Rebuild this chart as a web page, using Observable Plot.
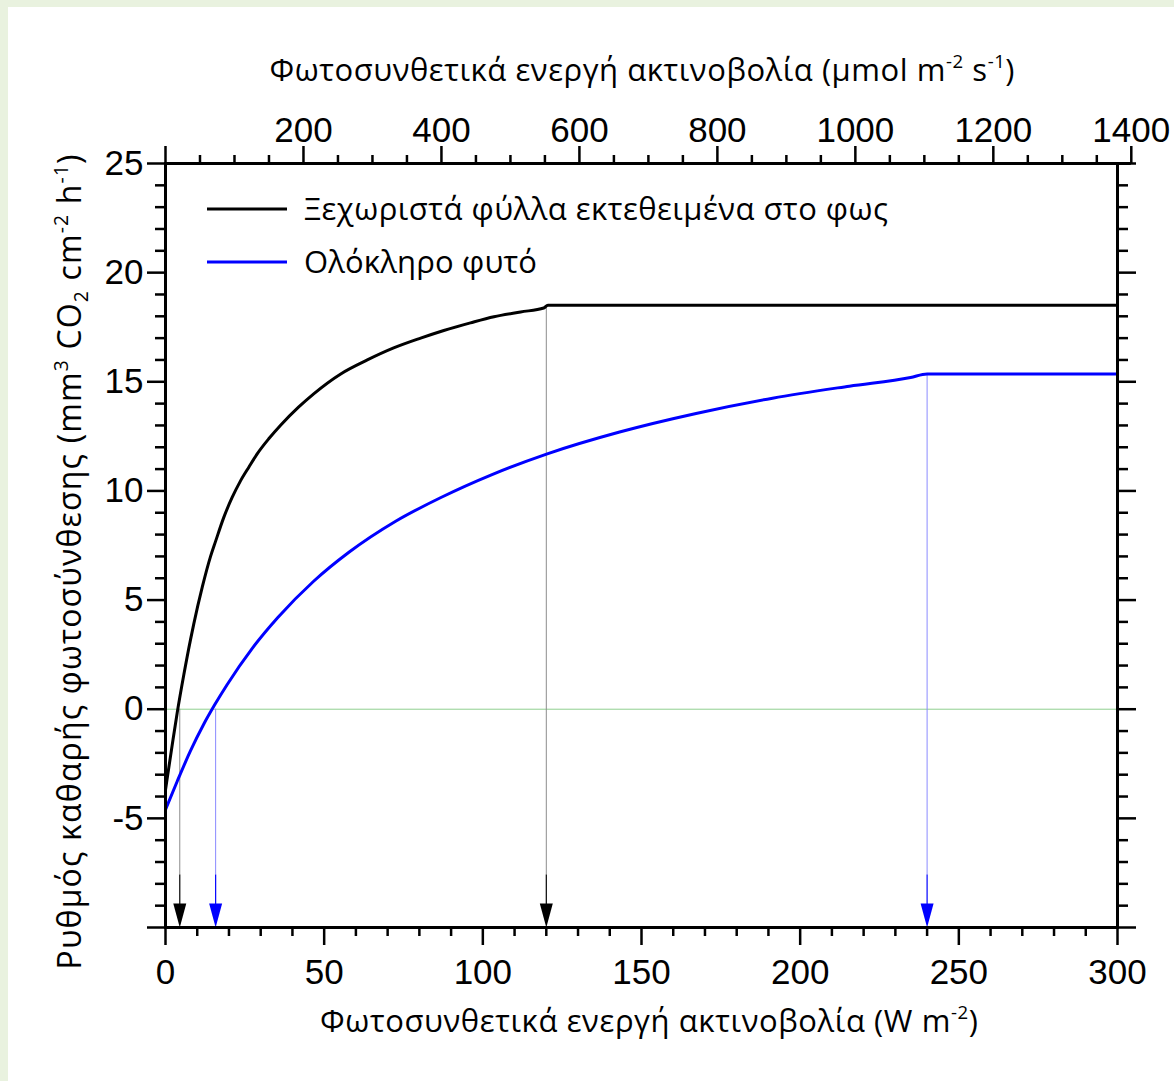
<!DOCTYPE html>
<html>
<head>
<meta charset="utf-8">
<script src="https://cdn.jsdelivr.net/npm/d3@7"></script>
<script src="https://cdn.jsdelivr.net/npm/@observablehq/plot@0.6"></script>
<style>
  html, body { margin: 0; padding: 0; }
  body { background: #e9f2df; width: 1174px; height: 1081px; position: relative; overflow: hidden; }
  #paper { position: absolute; left: 8px; top: 7px; right: 0; bottom: 0; background: #ffffff; }
  #chart { position: absolute; left: 0; top: 0; }
</style>
</head>
<body>
<div id="paper"></div>
<div id="chart"></div>
<script>
// ---------- data ----------
// Individual leaves exposed to light (W m-2, mm3 CO2 cm-2 h-1)
const leafX = [0, 0.5, 2.1, 3.7, 5.8, 7.9, 8.9, 11.6, 14.2, 15.8, 18.4, 21, 23.6, 26.3, 28.9, 32.6, 36.2, 42, 46.7, 55.1, 63.6, 71.9, 80.4, 87.7, 96.1, 103.5, 111.9, 119.2, 120.5, 300];
const leafY = [-3.7, -3.2, -1.65, -0.15, 1.6, 3.2, 3.9, 5.6, 7.0, 7.7, 8.8, 9.7, 10.45, 11.1, 11.7, 12.4, 13.0, 13.85, 14.45, 15.35, 16.0, 16.55, 17.0, 17.35, 17.7, 17.98, 18.2, 18.38, 18.51, 18.51];
// Whole plant
const plantX = [0, 3.7, 7.9, 12, 15.5, 19.3, 27.4, 35.4, 46.6, 57.9, 72.4, 86.8, 102.9, 120.3, 143.1, 167.2, 191.3, 215.5, 234.8, 240, 300];
const plantY = [-4.6, -3.3, -1.9, -0.7, 0.2, 1.1, 2.8, 4.2, 5.85, 7.2, 8.6, 9.7, 10.75, 11.7, 12.7, 13.55, 14.25, 14.8, 15.2, 15.36, 15.36];

// compensation and saturation points (W m-2) with the rate where the drop line starts
const dropX = [4.5, 15.8, 120, 240];
const dropTop = [0, 0, 18.51, 15.36];
const dropSeries = ["leaf", "plant", "leaf", "plant"];
const dropKind = ["compensation", "compensation", "saturation", "saturation"];

const seriesNames = ["Ξεχωριστά φύλλα εκτεθειμένα στο φως", "Ολόκληρο φυτό"];

// axes
const xDomain = [0, 300];
const yDomain = [-10, 25];
const xMajor = [0, 50, 100, 150, 200, 250, 300];
const xMinor = d3.range(0, 301, 10).filter(v => v % 50 !== 0);
const yMajor = [-10, -5, 0, 5, 10, 15, 20, 25];
const yMinor = d3.range(-10, 26, 1).filter(v => v % 5 !== 0);
const parMajor = [0, 200, 400, 600, 800, 1000, 1200, 1400];
const parMinor = d3.range(0, 1401, 50).filter(v => v % 200 !== 0);
const parPerW = 4.6; // µmol m-2 s-1 per W m-2

// ---------- build ----------
const leaf = leafX.map((x, i) => ({x, y: leafY[i]}));
const plant = plantX.map((x, i) => ({x, y: plantY[i]}));
const drops = dropX.map((x, i) => ({x, top: dropTop[i], s: dropSeries[i], k: dropKind[i]}));
const colorOf = {leaf: "#000000", plant: "#0000ff"};
const faintOf = {leaf: "#8c8c8c", plant: "#8a8aff"};
const yBottom = yDomain[0];
const shaftStart = -7.6;

const arrowHead = {
  draw(context) {
    const w = 6.5, h = 24;
    context.moveTo(-w, -h);
    context.lineTo(w, -h);
    context.lineTo(0, 0);
    context.closePath();
  }
};

const tickFont = 35;
const axStyle = {strokeWidth: 2.5, strokeOpacity: 1, fontSize: tickFont, label: null};
const fmt = d => d < 0 ? "-" + Math.abs(d) : String(d);

const plot = Plot.plot({
  width: 1174,
  height: 1081,
  marginLeft: 165,
  marginRight: 57,
  marginTop: 163,
  marginBottom: 154,
  x: {domain: xDomain},
  y: {domain: yDomain},
  style: {fontFamily: "'Liberation Sans', Arial, sans-serif", background: "transparent", color: "#000"},
  marks: [
    Plot.ruleY([0], {stroke: "#8fcf8f", strokeWidth: 1}),
    // drop lines
    Plot.ruleX(drops, {x: "x", y1: "top", y2: shaftStart,
      stroke: d => faintOf[d.s], strokeWidth: 1,
      strokeDasharray: d => d.k === "compensation" ? "1.5,1.5" : null}),
    Plot.ruleX(drops, {x: "x", y1: shaftStart, y2: yBottom + 1, stroke: d => colorOf[d.s], strokeWidth: 1.2}),
    Plot.line(plant, {x: "x", y: "y", stroke: colorOf.plant, strokeWidth: 3, curve: "monotone-x"}),
    Plot.line(leaf, {x: "x", y: "y", stroke: colorOf.leaf, strokeWidth: 3, curve: "monotone-x"}),
    Plot.dot(drops, {x: "x", y: yBottom, symbol: arrowHead, fill: d => colorOf[d.s], stroke: "none"}),
    Plot.frame({strokeWidth: 3}),
    // bottom axis
    Plot.axisX({...axStyle, anchor: "bottom", ticks: xMajor, tickSize: 18, tickPadding: 14, tickFormat: fmt}),
    Plot.axisX({...axStyle, anchor: "bottom", ticks: xMinor, tickSize: 9, tickFormat: () => ""}),
    // top axis (µmol)
    Plot.ruleY([yDomain[1]], {x1: 0, x2: parMajor[parMajor.length - 1] / parPerW, strokeWidth: 3}),
    Plot.axisX({...axStyle, anchor: "top", ticks: parMajor.map(v => v / parPerW), tickSize: 18, tickPadding: 4,
      tickFormat: d => { const v = Math.round(d * parPerW); return v === 0 ? "" : String(v); }}),
    Plot.axisX({...axStyle, anchor: "top", ticks: parMinor.map(v => v / parPerW), tickSize: 9, tickFormat: () => ""}),
    // left axis
    Plot.axisY({...axStyle, anchor: "left", ticks: yMajor, tickSize: 18, tickPadding: 4,
      tickFormat: d => d === yBottom ? "" : fmt(d)}),
    Plot.axisY({...axStyle, anchor: "left", ticks: yMinor, tickSize: 10, tickFormat: () => ""}),
    // right axis
    Plot.axisY({...axStyle, anchor: "right", ticks: yMajor, tickSize: 18, tickFormat: () => ""}),
    Plot.axisY({...axStyle, anchor: "right", ticks: yMinor, tickSize: 10, tickFormat: () => ""})
  ]
});

document.getElementById("chart").appendChild(plot);

// ---------- titles & legend (text with super/subscripts) ----------
const svg = d3.select(plot);
const titleFont = "'Open Sans', 'Noto Sans', sans-serif";

function richText(parent, x, y, parts, size, opts = {}) {
  const t = parent.append("text")
    .attr("x", x).attr("y", y)
    .attr("font-family", titleFont)
    .attr("font-size", size)
    .attr("fill", "#000")
    .attr("text-anchor", opts.anchor || "middle");
  if (opts.length) t.attr("textLength", opts.length);
  if (opts.rotate) t.attr("transform", `rotate(${opts.rotate},${x},${y})`);
  let shift = 0;
  for (const [str, kind] of parts) {
    const target = kind === "sup" ? -0.42 * size : kind === "sub" ? 0.22 * size : 0;
    const ts = t.append("tspan").text(str).attr("dy", target - shift);
    if (kind) ts.attr("font-size", size * 0.6);
    shift = target;
  }
  return t;
}

const g = svg.append("g");
richText(g, 642, 81, [["Φωτοσυνθετικά ενεργή ακτινοβολία (μmol m"], ["-2", "sup"], [" s"], ["-1", "sup"], [")"]], 31, {length: 745});
richText(g, 649, 1032, [["Φωτοσυνθετικά ενεργή ακτινοβολία (W m"], ["-2", "sup"], [")"]], 31, {length: 658});
richText(g, 81, 562, [["Ρυθμός καθαρής φωτοσύνθεσης (mm"], ["3", "sup"], [" CO"], ["2", "sub"], [" cm"], ["-2", "sup"], [" h"], ["-1", "sup"], [")"]], 32, {length: 815, rotate: -90});

// legend
const legendItems = [
  {name: seriesNames[0], color: colorOf.leaf, y: 209},
  {name: seriesNames[1], color: colorOf.plant, y: 262}
];
for (const it of legendItems) {
  g.append("line").attr("x1", 207).attr("x2", 287).attr("y1", it.y).attr("y2", it.y)
    .attr("stroke", it.color).attr("stroke-width", 3.2);
  richText(g, 304, it.y + 11, [[it.name]], 31, {anchor: "start", length: it.name === seriesNames[0] ? 584 : 233});
}
</script>
</body>
</html>
